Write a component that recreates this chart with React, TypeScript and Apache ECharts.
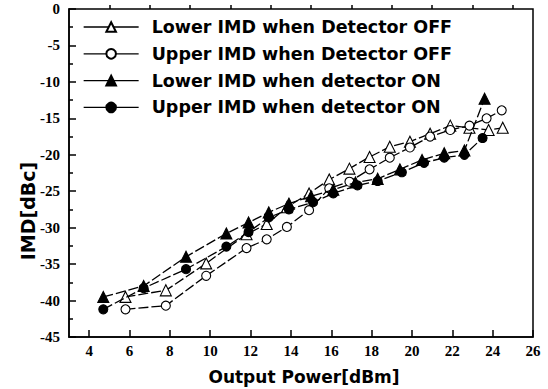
import React, { useEffect, useRef } from "react";
import * as echarts from "echarts";

const seriesNames = [
  "Lower IMD when Detector OFF",
  "Upper IMD when Detector OFF",
  "Lower IMD when detector ON",
  "Upper IMD when detector ON",
];

const lowerOffX = [5.8, 7.8, 9.8, 11.8, 12.8, 13.8, 14.9, 15.9, 16.9, 17.9, 18.9, 19.9, 20.9, 21.9, 22.85, 23.8, 24.5];
const lowerOffY = [-39.5, -38.6, -34.9, -30.9, -29.5, -27.2, -25.3, -23.4, -21.9, -20.3, -18.9, -18.2, -17.1, -16.0, -16.3, -16.6, -16.3];

const upperOffX = [5.8, 7.8, 9.8, 11.8, 12.8, 13.8, 14.9, 15.9, 16.9, 17.9, 18.9, 19.9, 20.9, 21.9, 22.85, 23.7, 24.45];
const upperOffY = [-41.2, -40.7, -36.6, -32.8, -31.6, -29.9, -27.6, -24.6, -23.7, -22.0, -20.4, -19.0, -17.5, -16.6, -16.0, -15.0, -13.9];

const lowerOnX = [4.7, 6.7, 8.8, 10.8, 11.9, 12.9, 13.9, 15.0, 16.1, 17.2, 18.3, 19.4, 20.5, 21.6, 22.6, 23.6];
const lowerOnY = [-39.5, -38.0, -34.0, -30.8, -29.3, -27.9, -26.7, -25.7, -24.8, -23.8, -23.3, -22.0, -20.7, -19.8, -19.4, -12.3];

const upperOnX = [4.7, 6.7, 8.8, 10.8, 11.9, 12.9, 13.9, 15.1, 16.1, 17.3, 18.3, 19.5, 20.6, 21.6, 22.6, 23.5];
const upperOnY = [-41.2, -38.3, -35.7, -32.6, -30.6, -28.6, -27.5, -26.5, -25.3, -24.2, -23.6, -22.4, -21.1, -20.4, -20.0, -17.7];

const xMajorTicks = [4, 6, 8, 10, 12, 14, 16, 18, 20, 22, 24, 26];
const xMinorTicks = [5, 7, 9, 11, 13, 15, 17, 19, 21, 23, 25];

const xTitle = "Output Power[dBm]";
const yTitle = "IMD[dBc]";

const pairs = (xs: number[], ys: number[]) => xs.map((x, i) => [x, ys[i]]);

export default function App() {
  const ref = useRef<HTMLDivElement>(null);
  useEffect(() => {
    if (!ref.current) return;
    const chart = echarts.init(ref.current, null, { renderer: "svg" });
    const tickFont = {
      fontFamily: "Liberation Serif",
      fontWeight: "bold" as const,
      fontSize: 15,
      color: "#000",
    };
    const lineStyle = { color: "#000", width: 1.3, type: [10, 3] as any };
    const mk = (
      name: string,
      data: number[][],
      symbol: string,
      size: number,
      filled: boolean
    ) => ({
      name,
      type: "line",
      xAxisIndex: 0,
      data,
      symbol,
      symbolSize: size,
      showSymbol: true,
      lineStyle,
      itemStyle: {
        color: filled ? "#000" : "#fff",
        borderColor: "#000",
        borderWidth: 1.1,
      },
      z: filled ? 3 : 2,
    });
    chart.setOption({
      animation: false,
      backgroundColor: "#fff",
      grid: {
        left: 69,
        right: 15,
        top: 9,
        bottom: 52,
        show: true,
        borderColor: "#000",
        borderWidth: 1.5,
        containLabel: false,
      },
      legend: {
        show: true,
        orient: "vertical",
        left: 83,
        top: 17,
        padding: 0,
        itemWidth: 55,
        itemHeight: 12,
        itemGap: 6.8,
        data: seriesNames,
        lineStyle: { type: "solid", width: 1.3, color: "#000" },
        textStyle: {
          fontFamily: "DejaVu Sans",
          fontWeight: "bold",
          fontSize: 17.5,
          lineHeight: 20,
          color: "#000",
          padding: [0, 0, 0, 8],
        },
      },
      xAxis: [
        {
          type: "value",
          min: 3,
          max: 26,
          position: "bottom",
          splitLine: { show: false },
          axisLine: { show: true, onZero: false, lineStyle: { color: "#000", width: 1.5 } },
          axisTick: {
            show: true,
            inside: true,
            length: 7,
            customValues: xMajorTicks,
            lineStyle: { color: "#000", width: 1.5 },
          },
          axisLabel: { ...tickFont, margin: 6, customValues: xMajorTicks },
        },
        {
          type: "value",
          min: 3,
          max: 26,
          position: "bottom",
          offset: 0,
          splitLine: { show: false },
          axisLine: { show: false },
          axisTick: {
            show: true,
            inside: true,
            length: 4,
            customValues: xMinorTicks,
            lineStyle: { color: "#000", width: 1.5 },
          },
          axisLabel: { show: false },
        },
      ],
      yAxis: {
        type: "value",
        min: -45,
        max: 0,
        interval: 5,
        splitLine: { show: false },
        axisLine: { show: true, onZero: false, lineStyle: { color: "#000", width: 1.5 } },
        axisTick: { show: true, inside: true, length: 7, lineStyle: { color: "#000", width: 1.5 } },
        minorTick: { show: true, splitNumber: 2, length: 4, lineStyle: { color: "#000", width: 1.5 } },
        minorSplitLine: { show: false },
        axisLabel: { ...tickFont, margin: 9 },
      },
      graphic: [
        {
          type: "text",
          x: 304,
          y: 377,
          style: {
            text: xTitle,
            fontFamily: "DejaVu Sans",
            fontWeight: "bold",
            fontSize: 17,
            fill: "#000",
            align: "center",
            verticalAlign: "middle",
          },
        },
        {
          type: "text",
          x: 28,
          y: 211,
          rotation: Math.PI / 2,
          style: {
            text: yTitle,
            fontFamily: "DejaVu Sans",
            fontWeight: "bold",
            fontSize: 19,
            fill: "#000",
            align: "center",
            verticalAlign: "middle",
          },
        },
      ],
      series: [
        mk(seriesNames[0], pairs(lowerOffX, lowerOffY), "triangle", 11, false),
        mk(seriesNames[1], pairs(upperOffX, upperOffY), "circle", 9, false),
        mk(seriesNames[2], pairs(lowerOnX, lowerOnY), "triangle", 11, true),
        mk(seriesNames[3], pairs(upperOnX, upperOnY), "circle", 9, true),
      ],
    });
    return () => chart.dispose();
  }, []);
  return (
    <div
      ref={ref}
      style={{ position: "fixed", left: 0, top: 0, width: 548, height: 389, background: "#fff" }}
    />
  );
}
